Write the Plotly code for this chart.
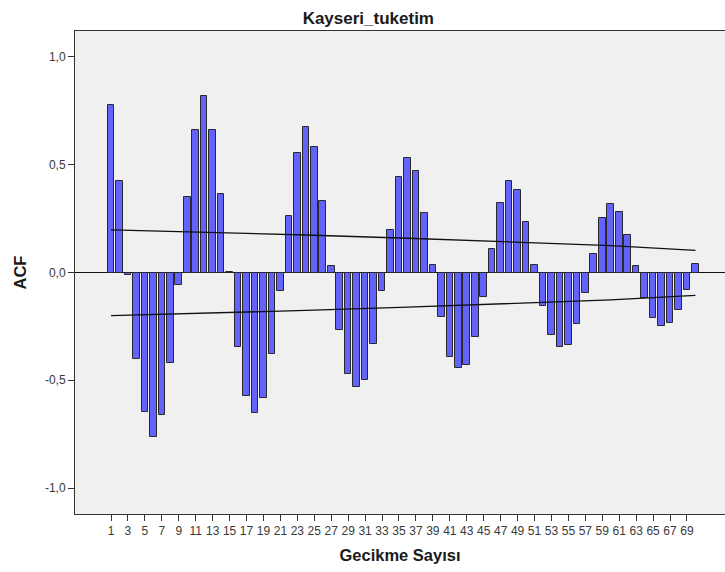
import plotly.graph_objects as go

lags = list(range(1, 71))
acf = [
    0.775, 0.424, -0.010, -0.400, -0.648, -0.761, -0.660, -0.421, -0.056, 0.350,
    0.662, 0.817, 0.662, 0.362, 0.004, -0.347, -0.571, -0.651, -0.584, -0.380,
    -0.084, 0.260, 0.554, 0.674, 0.581, 0.334, 0.028, -0.266, -0.470, -0.532,
    -0.501, -0.334, -0.084, 0.198, 0.442, 0.530, 0.473, 0.277, 0.036, -0.207,
    -0.390, -0.445, -0.427, -0.300, -0.115, 0.107, 0.322, 0.424, 0.384, 0.233,
    0.036, -0.156, -0.289, -0.347, -0.336, -0.238, -0.094, 0.087, 0.252, 0.319,
    0.280, 0.172, 0.032, -0.116, -0.210, -0.250, -0.235, -0.173, -0.080, 0.040,
]

cl_lags = [1, 12, 24, 36, 48, 60, 70]
cl_upper = [0.198, 0.187, 0.174, 0.159, 0.143, 0.125, 0.103]
cl_lower = [-0.200, -0.189, -0.176, -0.161, -0.145, -0.127, -0.106]

tick_vals = list(range(1, 70, 2))
tick_text = [str(v) for v in tick_vals]
y_vals = [1.0, 0.5, 0.0, -0.5, -1.0]
y_text = ["1,0", "0,5", "0,0", "-0,5", "-1,0"]

fig = go.Figure()
fig.add_trace(go.Bar(
    x=lags, y=acf, width=0.78,
    marker=dict(color="#6363fb", line=dict(color="#2a2a2a", width=1)),
    showlegend=False,
))
fig.add_trace(go.Scatter(x=cl_lags, y=cl_upper, mode="lines",
                         line=dict(color="#111111", width=1.3), showlegend=False))
fig.add_trace(go.Scatter(x=cl_lags, y=cl_lower, mode="lines",
                         line=dict(color="#111111", width=1.3), showlegend=False))

fig.update_layout(
    width=725, height=572,
    margin=dict(l=75, r=0, t=31, b=58),
    paper_bgcolor="white", plot_bgcolor="#f0f0f0",
    font=dict(family="Liberation Sans, Arial, sans-serif", color="#333333", size=12),
    title=dict(text="<b>Kayseri_tuketim</b>", x=0.508, xanchor="center", y=0.9685, yanchor="middle",
               font=dict(size=17, color="#1a1a1a")),
    bargap=0,
)
fig.update_xaxes(
    range=[-3.25, 73.49], tickvals=tick_vals, ticktext=tick_text,
    ticks="outside", ticklen=6, tickcolor="#333333", showgrid=False, zeroline=False,
    showline=True, linecolor="#333333", linewidth=1, mirror=True,
    tickfont=dict(size=12, color="#3a3a3a"),
    title=dict(text="<b>Gecikme Sayısı</b>", font=dict(size=16.5, color="#1a1a1a"), standoff=12),
)
fig.update_yaxes(
    range=[-1.1206, 1.1206], tickvals=y_vals, ticktext=y_text,
    ticks="outside", ticklen=6, tickcolor="#333333", showgrid=False,
    zeroline=True, zerolinecolor="#111111", zerolinewidth=1.3,
    showline=True, linecolor="#333333", linewidth=1, mirror=False,
    tickfont=dict(size=12, color="#3a3a3a"),
    title=dict(text="<b>ACF</b>", font=dict(size=16.5, color="#1a1a1a"), standoff=14),
)

fig.write_html("out.html")
